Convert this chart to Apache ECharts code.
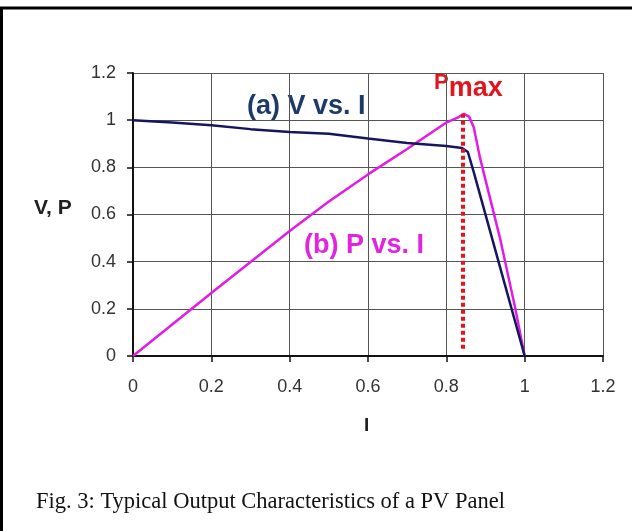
<!DOCTYPE html>
<html lang="en">
<head>
    <meta charset="UTF-8">
    <title>PV Panel Output Characteristics</title>
    <script src="https://cdn.jsdelivr.net/npm/echarts@6/dist/echarts.min.js"></script>
    <style>
        html, body {
            margin: 0;
            padding: 0;
            background: #fff;
        }

        #chart {
            width: 632px;
            height: 531px;
        }
    </style>
</head>
<body>
<div id="chart"></div>
<script>
    // current I (normalised) against V and P
    const vCurve = [
        [0, 1.0], [0.1, 0.99], [0.2, 0.978], [0.3, 0.962], [0.4, 0.95],
        [0.5, 0.942], [0.6, 0.922], [0.7, 0.903], [0.8, 0.89], [0.84, 0.882],
        [0.855, 0.865], [0.87, 0.78], [0.92, 0.48], [1.0, 0]
    ];
    const pCurve = [
        [0, 0], [0.2, 0.267], [0.4, 0.53], [0.5, 0.655], [0.6, 0.77],
        [0.7, 0.878], [0.8, 0.99], [0.83, 1.012], [0.845, 1.027], [0.858, 1.015],
        [0.87, 0.97], [0.886, 0.84], [0.937, 0.5], [0.975, 0.21], [1.0, 0]
    ];
    const pMaxAt = 0.843;
    const pMaxValue = 1.027;
    const axisTicks = [0, 0.2, 0.4, 0.6, 0.8, 1, 1.2];

    const font = '"Liberation Sans", Arial, sans-serif';
    const chart = echarts.init(document.getElementById('chart'));

    const option = {
        animation: false,
        backgroundColor: '#fff',
        grid: {
            left: 133,
            right: 29,
            top: 73,
            bottom: 175
        },
        xAxis: {
            type: 'value',
            min: axisTicks[0],
            max: axisTicks[axisTicks.length - 1],
            interval: 0.2,
            axisLine: { show: true, onZero: false, lineStyle: { color: '#111', width: 2 } },
            axisTick: { show: true, inside: false, length: 6, lineStyle: { color: '#111', width: 1.5 } },
            axisLabel: {
                margin: 22,
                fontFamily: font,
                fontSize: 18,
                color: '#333',
                formatter: v => String(+v.toFixed(1))
            },
            splitLine: { show: true, lineStyle: { color: '#555', width: 1 } }
        },
        yAxis: {
            type: 'value',
            min: axisTicks[0],
            max: axisTicks[axisTicks.length - 1],
            interval: 0.2,
            axisLine: { show: true, onZero: false, lineStyle: { color: '#111', width: 2 } },
            axisTick: { show: true, inside: false, length: 6, lineStyle: { color: '#111', width: 1.5 } },
            axisLabel: {
                margin: 17,
                fontFamily: font,
                fontSize: 18,
                color: '#333',
                formatter: v => String(+v.toFixed(1))
            },
            splitLine: { show: true, lineStyle: { color: '#555', width: 1 } }
        },
        series: [
            {
                name: 'P vs. I',
                type: 'line',
                data: pCurve,
                symbol: 'none',
                z: 3,
                lineStyle: { color: '#e21de2', width: 2.5 },
                markLine: {
                    silent: true,
                    symbol: 'none',
                    label: { show: false },
                    lineStyle: { color: '#e3141b', width: 4, type: [4, 3] },
                    data: [[
                        { coord: [pMaxAt, pMaxValue] },
                        { coord: [pMaxAt, 0.03] }
                    ]]
                }
            },
            {
                name: 'V vs. I',
                type: 'line',
                data: vCurve,
                symbol: 'none',
                z: 4,
                lineStyle: { color: '#15165e', width: 2.5 }
            }
        ],
        graphic: [
            {
                type: 'rect',
                silent: true,
                shape: { x: 1.5, y: 8, width: 700, height: 600 },
                style: { fill: 'none', stroke: '#000', lineWidth: 3 }
            },
            {
                type: 'text',
                left: 247,
                top: 93,
                style: {
                    text: '(a) V vs. I',
                    fill: '#1e3a68',
                    font: 'bold 27px ' + font
                }
            },
            {
                type: 'text',
                left: 304,
                top: 232,
                style: {
                    text: '(b) P vs. I',
                    fill: '#e024e0',
                    font: 'bold 27px ' + font
                }
            },
            {
                type: 'text',
                left: 434,
                top: 72,
                style: {
                    rich: {
                        p: { fill: '#e3141b', fontFamily: font, fontWeight: 'bold', fontSize: 22 },
                        m: { fill: '#e3141b', fontFamily: font, fontWeight: 'bold', fontSize: 27, padding: [12, 0, 0, 0] }
                    },
                    text: '{p|P}{m|max}'
                }
            },
            {
                type: 'text',
                left: 34,
                top: 198,
                style: {
                    text: 'V, P',
                    fill: '#222',
                    font: 'bold 21px ' + font
                }
            },
            {
                type: 'text',
                left: 364,
                top: 416,
                style: {
                    text: 'I',
                    fill: '#222',
                    font: 'bold 19px ' + font
                }
            },
            {
                type: 'text',
                left: 36,
                top: 491,
                style: {
                    text: 'Fig. 3: Typical Output Characteristics of a PV Panel',
                    fill: '#111',
                    font: '22.5px "Liberation Serif", "Times New Roman", serif'
                }
            }
        ]
    };

    chart.setOption(option);
</script>
</body>
</html>
